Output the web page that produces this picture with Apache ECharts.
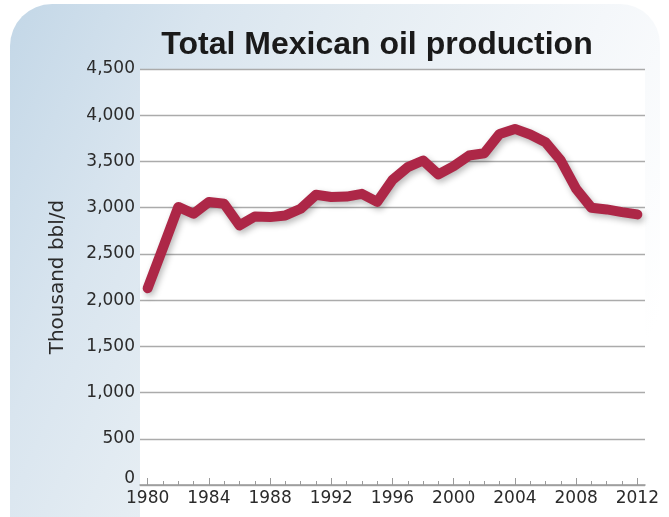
<!DOCTYPE html>
<html>
<head>
<meta charset="utf-8">
<title>Total Mexican oil production</title>
<script src="https://cdn.jsdelivr.net/npm/echarts@6/dist/echarts.min.js"></script>
<style>
  html, body { margin: 0; padding: 0; background: #ffffff; }
  #chart { width: 669px; height: 517px; }
</style>
</head>
<body>
<div id="chart"></div>
<script>
// Annual production, thousand barrels per day
const years = ['1980','1981','1982','1983','1984','1985','1986','1987','1988','1989',
               '1990','1991','1992','1993','1994','1995','1996','1997','1998','1999',
               '2000','2001','2002','2003','2004','2005','2006','2007','2008','2009',
               '2010','2011','2012'];
const production = [2128, 2565, 3008, 2934, 3062, 3042, 2808, 2905, 2898, 2916,
                    2988, 3140, 3116, 3120, 3150, 3062, 3300, 3438, 3510, 3359,
                    3449, 3564, 3589, 3798, 3852, 3791, 3708, 3510, 3204, 2999,
                    2981, 2952, 2927];
const yTicks = { min: 0, max: 4500, step: 500 };
const titleText = 'Total Mexican oil production';
const yName = 'Thousand bbl/d';

const axisFont = 'DejaVu Sans';
const textColor = '#2b2b2b';
const gridColor = '#ababab';

const chart = echarts.init(document.getElementById('chart'), null, { renderer: 'canvas' });

chart.setOption({
  animation: false,
  backgroundColor: '#ffffff',
  graphic: [
    {
      // tinted panel behind the whole chart
      type: 'rect',
      z: -10,
      shape: { x: 10, y: 4, width: 650, height: 520, r: [42, 40, 0, 0] },
      style: {
        fill: new echarts.graphic.LinearGradient(0, 0, 1, 0.6, [
          { offset: 0, color: '#c3d7e7' },
          { offset: 0.25, color: '#d9e5ef' },
          { offset: 0.45, color: '#e5edf3' },
          { offset: 0.75, color: '#f4f7fa' },
          { offset: 1, color: '#ffffff' }
        ])
      }
    },
    {
      // white plotting field
      type: 'rect',
      z: -9,
      shape: { x: 140, y: 69, width: 505, height: 460 },
      style: { fill: '#ffffff' }
    },
    {
      type: 'text',
      x: 377,
      y: 29,
      style: {
        text: titleText,
        align: 'center',
        font: 'bold 32px "Liberation Sans", Arial, sans-serif',
        fill: '#1a1a1a'
      }
    }
  ],
  grid: { left: 140, right: 24, top: 69, bottom: 32, containLabel: false },
  xAxis: [
    {
      type: 'category',
      position: 'bottom',
      data: years,
      boundaryGap: true,
      axisLine: { show: true, lineStyle: { color: '#9a9a9a', width: 1.5 } },
      axisTick: {
        show: true, inside: true, alignWithLabel: true, interval: 0, length: 4,
        lineStyle: { color: '#9a9a9a', width: 1 }
      },
      axisLabel: {
        interval: 3, margin: 5, color: textColor,
        fontFamily: axisFont, fontSize: 17
      },
      splitLine: { show: false }
    },
    {
      type: 'category',
      position: 'bottom',
      data: years,
      boundaryGap: true,
      axisLine: { show: false },
      axisTick: {
        show: true, inside: true, alignWithLabel: true, interval: 3, length: 7,
        lineStyle: { color: '#9a9a9a', width: 1 }
      },
      axisLabel: { show: false },
      splitLine: { show: false }
    }
  ],
  yAxis: {
    type: 'value',
    min: yTicks.min,
    max: yTicks.max,
    interval: yTicks.step,
    name: yName,
    nameLocation: 'middle',
    nameRotate: 90,
    nameGap: 72,
    nameTextStyle: { fontFamily: axisFont, fontSize: 20, color: textColor },
    axisLine: { show: false },
    axisTick: { show: false },
    axisLabel: {
      margin: 5,
      color: textColor,
      fontFamily: axisFont,
      fontSize: 17,
      formatter: function (v) {
        const s = v.toLocaleString('en-US');
        return v === 0 ? '{zero|' + s + '}' : s;
      },
      rich: {
        zero: { fontFamily: axisFont, fontSize: 17, color: textColor, padding: [0, 0, 12, 0] }
      }
    },
    splitLine: { show: true, lineStyle: { color: gridColor, width: 1.4 } }
  },
  series: [
    {
      type: 'line',
      xAxisIndex: 0,
      data: production,
      symbol: 'none',
      z: 5,
      lineStyle: {
        color: '#ad2747',
        width: 10,
        cap: 'round',
        join: 'round',
        shadowColor: 'rgba(0,0,0,0.28)',
        shadowBlur: 6,
        shadowOffsetX: 2,
        shadowOffsetY: 3
      }
    }
  ]
});
</script>
</body>
</html>
